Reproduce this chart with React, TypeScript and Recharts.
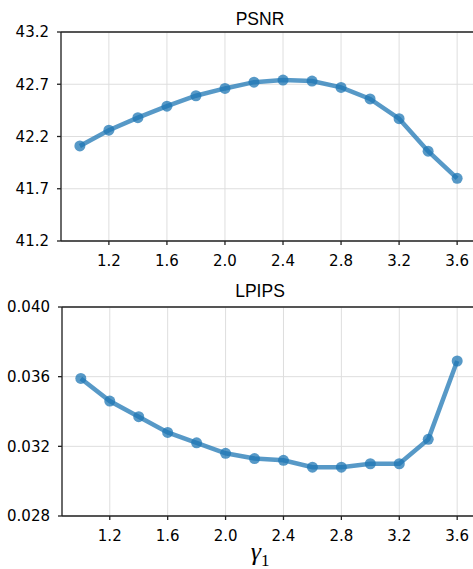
import { LineChart, Line, XAxis, YAxis, CartesianGrid, ReferenceLine } from "recharts";

const gammas = [1.0, 1.2, 1.4, 1.6, 1.8, 2.0, 2.2, 2.4, 2.6, 2.8, 3.0, 3.2, 3.4, 3.6];
const psnr = [42.11, 42.26, 42.38, 42.49, 42.59, 42.66, 42.72, 42.74, 42.73, 42.67, 42.56, 42.37, 42.06, 41.8];
const lpips = [0.0359, 0.0346, 0.0337, 0.0328, 0.0322, 0.0316, 0.0313, 0.0312, 0.0308, 0.0308, 0.031, 0.031, 0.0324, 0.0369];

const xTicks = [1.2, 1.6, 2.0, 2.4, 2.8, 3.2, 3.6];
const psnrTicks = [41.2, 41.7, 42.2, 42.7, 43.2];
const lpipsTicks = [0.028, 0.032, 0.036, 0.04];

const data = gammas.map((g, i) => ({ g, psnr: psnr[i], lpips: lpips[i] }));

const blue = "#1f77b4";
const axisColor = "#222";
const tickFont = { fontFamily: "DejaVu Sans", fontSize: 15, fill: "#000" };

type PanelProps = {
  top: number;
  yWidth: number;
  dataKey: "psnr" | "lpips";
  ticks: number[];
  digits: number;
};

function Panel({ top, yWidth, dataKey, ticks, digits }: PanelProps) {
  const plotH = 209;
  return (
    <div style={{ position: "absolute", left: 0, top: 0 }}>
      <LineChart width={480} height={top + plotH + 40} data={data} margin={{ top, right: 4, bottom: 0, left: 0 }}>
        <CartesianGrid stroke="#dedede" strokeWidth={1} />
        <XAxis
          dataKey="g"
          type="number"
          domain={[0.87, 3.73]}
          ticks={xTicks}
          tickFormatter={(v: number) => v.toFixed(1)}
          tick={tickFont}
          tickSize={4}
          tickMargin={10}
          height={40}
          stroke={axisColor}
          strokeWidth={1.3}
          allowDataOverflow
        />
        <YAxis
          type="number"
          domain={[ticks[0], ticks[ticks.length - 1]]}
          ticks={ticks}
          tickFormatter={(v: number) => v.toFixed(digits)}
          tick={tickFont}
          tickSize={4}
          tickMargin={8}
          width={yWidth}
          stroke={axisColor}
          strokeWidth={1.3}
          allowDataOverflow
        />
        <ReferenceLine y={ticks[ticks.length - 1]} stroke={axisColor} strokeWidth={1.3} />
        <Line
          dataKey={dataKey}
          type="linear"
          stroke={blue}
          strokeOpacity={0.75}
          strokeWidth={4.5}
          dot={{ r: 5.5, fill: blue, fillOpacity: 0.75, stroke: "none" }}
          activeDot={false}
          isAnimationActive={false}
        />
      </LineChart>
    </div>
  );
}

const titleStyle: React.CSSProperties = {
  position: "absolute",
  left: 160,
  width: 200,
  textAlign: "center",
  fontFamily: "Liberation Sans",
  fontSize: 17.5,
  color: "#000",
  lineHeight: "20px",
};

export default function App() {
  return (
    <div style={{ position: "fixed", left: 0, top: 0, width: 473, height: 569, overflow: "hidden", background: "#fff" }}>
      <Panel top={32} yWidth={61} dataKey="psnr" ticks={psnrTicks} digits={1} />
      <Panel top={307} yWidth={62} dataKey="lpips" ticks={lpipsTicks} digits={3} />
      <div style={{ ...titleStyle, top: 9 }}>PSNR</div>
      <div style={{ ...titleStyle, top: 281 }}>LPIPS</div>
      <div
        style={{
          position: "absolute",
          left: 160,
          width: 200,
          top: 538,
          textAlign: "center",
          fontFamily: "Liberation Serif",
          fontStyle: "italic",
          fontSize: 26,
          lineHeight: "28px",
          color: "#000",
        }}
      >
        γ<sub style={{ fontStyle: "normal", fontSize: 17 }}>1</sub>
      </div>
    </div>
  );
}
